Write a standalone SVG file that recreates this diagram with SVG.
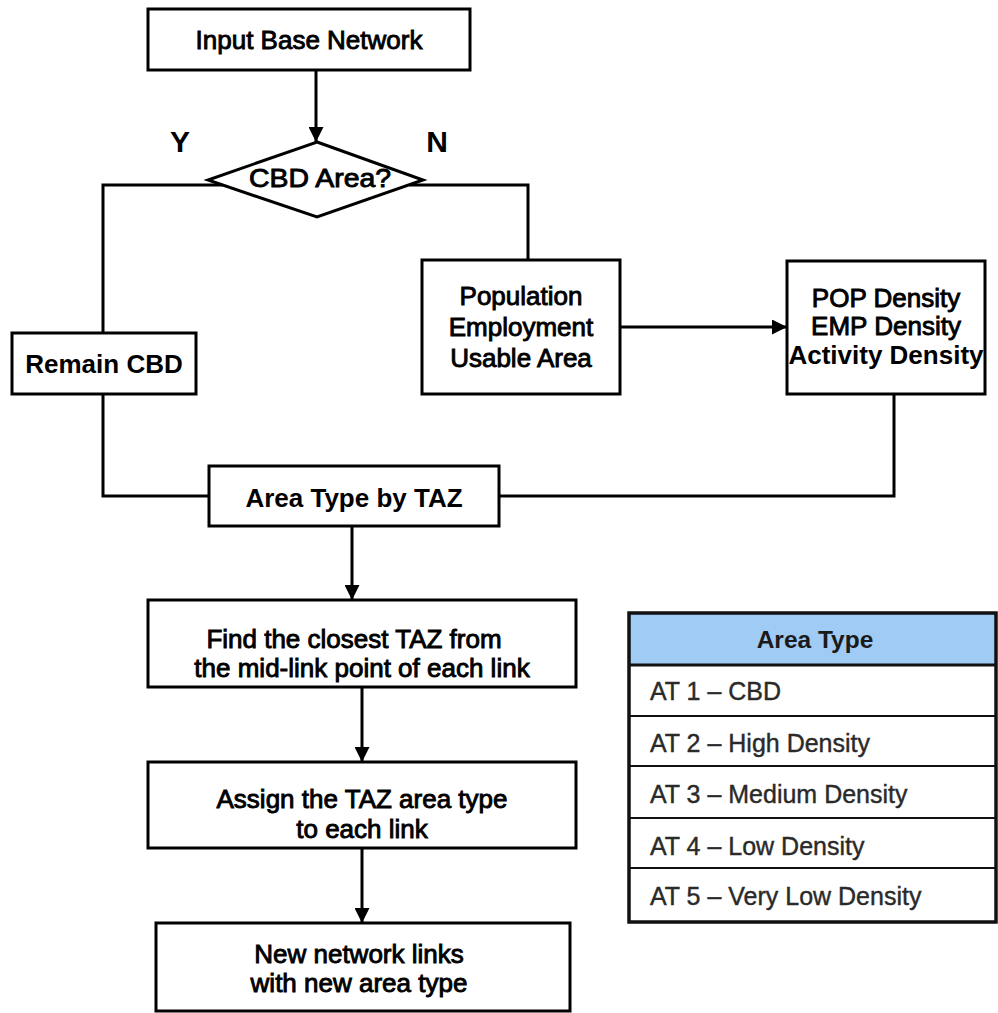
<svg xmlns="http://www.w3.org/2000/svg" width="998" height="1013" viewBox="0 0 998 1013">
<style>
.box{fill:#fff;stroke:#000;stroke-width:3}
.ln{fill:none;stroke:#000;stroke-width:3}
.t{font-family:"Liberation Sans",Arial,sans-serif;font-size:26px;fill:#000;text-anchor:middle;stroke:#000;stroke-width:0.9}
.b{font-family:"Liberation Sans",Arial,sans-serif;font-weight:bold;font-size:26px;fill:#000;text-anchor:middle}
.lbl{font-family:"Liberation Sans",Arial,sans-serif;font-weight:bold;font-size:30px;fill:#000;text-anchor:middle}
.th{font-family:"Liberation Sans",Arial,sans-serif;font-weight:bold;font-size:24.5px;fill:#1a1a1a;text-anchor:middle}
.tr{font-family:"Liberation Sans",Arial,sans-serif;font-size:25px;fill:#2a2a2a;stroke:#2a2a2a;stroke-width:0.4}
</style>
<defs>
<marker id="arr" viewBox="0 0 10 10" refX="10" refY="5" markerWidth="5" markerHeight="5" orient="auto" markerUnits="strokeWidth">
<path d="M0,0 L10,5 L0,10 z" fill="#000"/>
</marker>
</defs>
<rect width="998" height="1013" fill="#fff"/>
<g id="connectors">
<line class="ln" x1="316" y1="70" x2="316" y2="142" marker-end="url(#arr)"/>
<polyline class="ln" points="223,185 103,185 103,333"/>
<polyline class="ln" points="409,185 528,185 528,260"/>
<line class="ln" x1="620" y1="327" x2="787" y2="327" marker-end="url(#arr)"/>
<polyline class="ln" points="103,394 103,496 209,496"/>
<polyline class="ln" points="894,394 894,496 499,496"/>
<line class="ln" x1="352" y1="526" x2="352" y2="600" marker-end="url(#arr)"/>
<line class="ln" x1="362" y1="687" x2="362" y2="762" marker-end="url(#arr)"/>
<line class="ln" x1="362" y1="848" x2="362" y2="923" marker-end="url(#arr)"/>
</g>
<g id="input">
<rect class="box" x="148" y="9" width="322" height="61"/>
<text class="t" x="309" y="49">Input Base Network</text>
</g>
<g id="decision">
<polygon class="box" points="317,142 423,180 317,217 208,180"/>
<text class="t" x="320" y="187" textLength="142" lengthAdjust="spacingAndGlyphs">CBD Area?</text>
</g>
<g id="labels">
<text class="lbl" x="180" y="152">Y</text>
<text class="lbl" x="437" y="152">N</text>
</g>
<g id="remain">
<rect class="box" x="12" y="333" width="184" height="61"/>
<text class="b" x="104" y="373">Remain CBD</text>
</g>
<g id="population">
<rect class="box" x="422" y="260" width="198" height="134"/>
<text class="t" x="521" y="305">Population</text>
<text class="t" x="521" y="336">Employment</text>
<text class="t" x="521" y="367">Usable Area</text>
</g>
<g id="density">
<rect class="box" x="787" y="261" width="198" height="133"/>
<text class="t" x="886" y="307">POP Density</text>
<text class="t" x="886" y="335">EMP Density</text>
<text class="b" x="886" y="364" font-size="25.5">Activity Density</text>
</g>
<g id="areatype">
<rect class="box" x="209" y="466" width="290" height="60"/>
<text class="b" x="354" y="507">Area Type by TAZ</text>
</g>
<g id="find">
<rect class="box" x="148" y="600" width="428" height="87"/>
<text class="t" x="354" y="648">Find the closest TAZ from</text>
<text class="t" x="362" y="677">the mid-link point of each link</text>
</g>
<g id="assign">
<rect class="box" x="148" y="762" width="428" height="86"/>
<text class="t" x="362" y="808">Assign the TAZ area type</text>
<text class="t" x="362" y="838">to each link</text>
</g>
<g id="newlinks">
<rect class="box" x="156" y="923" width="414" height="88"/>
<text class="t" x="359" y="963">New network links</text>
<text class="t" x="359" y="992">with new area type</text>
</g>
<g id="table">
<rect x="629" y="613" width="368" height="52" fill="#a0cbf5"/>
<rect x="629" y="665" width="368" height="257" fill="#fff"/>
<g stroke="#111" stroke-width="2">
<line x1="629" y1="716" x2="997" y2="716"/>
<line x1="629" y1="766" x2="997" y2="766"/>
<line x1="629" y1="818" x2="997" y2="818"/>
<line x1="629" y1="868" x2="997" y2="868"/>
</g>
<line x1="629" y1="665" x2="997" y2="665" stroke="#111" stroke-width="3"/>
<rect x="629" y="613" width="367" height="309" fill="none" stroke="#111" stroke-width="3.5"/>
<text class="th" x="815" y="648">Area Type</text>
<text class="tr" x="650" y="700">AT 1 – CBD</text>
<text class="tr" x="650" y="752">AT 2 – High Density</text>
<text class="tr" x="650" y="803">AT 3 – Medium Density</text>
<text class="tr" x="650" y="855">AT 4 – Low Density</text>
<text class="tr" x="650" y="905">AT 5 – Very Low Density</text>
</g>
</svg>
